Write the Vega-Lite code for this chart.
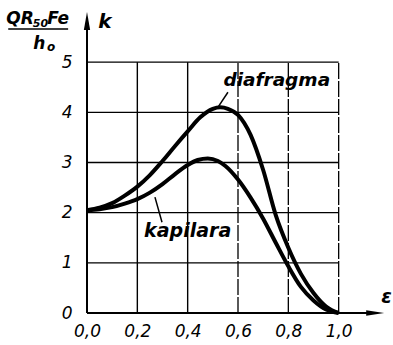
{
  "$schema": "https://vega.github.io/schema/vega-lite/v6.json",
  "width": 302,
  "height": 301,
  "autosize": "none",
  "padding": {"left": 87, "top": 12, "right": 4, "bottom": 32},
  "background": "white",
  "config": {"view": {"stroke": null}, "font": "DejaVu Sans"},
  "datasets": {
    "curves": [
      {"series": "diafragma", "x": 0.0, "y": 2.05},
      {"series": "diafragma", "x": 0.05, "y": 2.1},
      {"series": "diafragma", "x": 0.1, "y": 2.19},
      {"series": "diafragma", "x": 0.15, "y": 2.34},
      {"series": "diafragma", "x": 0.2, "y": 2.52},
      {"series": "diafragma", "x": 0.25, "y": 2.75},
      {"series": "diafragma", "x": 0.3, "y": 3.03},
      {"series": "diafragma", "x": 0.35, "y": 3.33},
      {"series": "diafragma", "x": 0.4, "y": 3.62},
      {"series": "diafragma", "x": 0.45, "y": 3.9},
      {"series": "diafragma", "x": 0.5, "y": 4.07},
      {"series": "diafragma", "x": 0.53, "y": 4.1},
      {"series": "diafragma", "x": 0.56, "y": 4.07},
      {"series": "diafragma", "x": 0.6, "y": 3.95},
      {"series": "diafragma", "x": 0.65, "y": 3.55},
      {"series": "diafragma", "x": 0.7, "y": 2.85},
      {"series": "diafragma", "x": 0.75, "y": 1.95},
      {"series": "diafragma", "x": 0.8, "y": 1.3},
      {"series": "diafragma", "x": 0.85, "y": 0.78},
      {"series": "diafragma", "x": 0.9, "y": 0.4},
      {"series": "diafragma", "x": 0.95, "y": 0.13},
      {"series": "diafragma", "x": 1.0, "y": 0.0},
      {"series": "kapilara", "x": 0.0, "y": 2.05},
      {"series": "kapilara", "x": 0.05, "y": 2.07},
      {"series": "kapilara", "x": 0.1, "y": 2.11},
      {"series": "kapilara", "x": 0.15, "y": 2.18},
      {"series": "kapilara", "x": 0.2, "y": 2.27},
      {"series": "kapilara", "x": 0.25, "y": 2.4},
      {"series": "kapilara", "x": 0.3, "y": 2.57},
      {"series": "kapilara", "x": 0.35, "y": 2.77},
      {"series": "kapilara", "x": 0.4, "y": 2.95},
      {"series": "kapilara", "x": 0.44, "y": 3.05},
      {"series": "kapilara", "x": 0.48, "y": 3.08},
      {"series": "kapilara", "x": 0.52, "y": 3.03},
      {"series": "kapilara", "x": 0.55, "y": 2.93},
      {"series": "kapilara", "x": 0.6, "y": 2.66},
      {"series": "kapilara", "x": 0.65, "y": 2.3},
      {"series": "kapilara", "x": 0.7, "y": 1.88},
      {"series": "kapilara", "x": 0.75, "y": 1.4},
      {"series": "kapilara", "x": 0.8, "y": 0.93},
      {"series": "kapilara", "x": 0.85, "y": 0.52},
      {"series": "kapilara", "x": 0.9, "y": 0.25},
      {"series": "kapilara", "x": 0.95, "y": 0.07},
      {"series": "kapilara", "x": 1.0, "y": 0.0}
    ],
    "gridSolid": [
      {"x": 0.2, "x2": 0.2, "y": 0, "y2": 5},
      {"x": 0.4, "x2": 0.4, "y": 0, "y2": 5},
      {"x": 0, "x2": 1.0, "y": 1, "y2": 1},
      {"x": 0, "x2": 1.0, "y": 2, "y2": 2},
      {"x": 0, "x2": 1.0, "y": 3, "y2": 3},
      {"x": 0, "x2": 1.0, "y": 4, "y2": 4},
      {"x": 0, "x2": 1.0, "y": 5, "y2": 5}
    ],
    "gridBroken": [
      {"x": 0.6, "x2": 0.6, "y": 0, "y2": 5},
      {"x": 0.8, "x2": 0.8, "y": 0, "y2": 5},
      {"x": 1.0, "x2": 1.0, "y": 0, "y2": 5}
    ],
    "axes": [
      {"x": 0, "x2": 1.13, "y": 0, "y2": 0},
      {"x": 0, "x2": 0, "y": 0, "y2": 5.7}
    ],
    "arrows": [
      {"x": 0, "y": 5.82, "dir": "up"},
      {"x": 1.145, "y": 0, "dir": "right"}
    ],
    "labels": [
      {"x": 0.754, "y": 4.64, "text": "diafragma", "size": 18.5},
      {"x": 0.4, "y": 1.63, "text": "kapilara", "size": 19},
      {"x": 0.071, "y": 5.8, "text": "k", "size": 20},
      {"x": 1.19, "y": 0.32, "text": "ε", "size": 19},
      {"x": -0.266, "y": 5.87, "text": "QR", "size": 17},
      {"x": -0.185, "y": 5.76, "text": "50", "size": 11},
      {"x": -0.115, "y": 5.87, "text": "Fe", "size": 17},
      {"x": -0.19, "y": 5.37, "text": "h", "size": 17},
      {"x": -0.143, "y": 5.31, "text": "o", "size": 12}
    ],
    "leaders": [
      {"x": 0.56, "x2": 0.52, "y": 4.4, "y2": 4.1},
      {"x": 0.298, "x2": 0.27, "y": 1.81, "y2": 2.31},
      {"x": -0.313, "x2": -0.075, "y": 5.66, "y2": 5.66}
    ]
  },
  "encoding": {
    "x": {
      "field": "x", "type": "quantitative",
      "scale": {"domain": [0, 1.2], "nice": false, "zero": false},
      "axis": {
        "values": [0, 0.2, 0.4, 0.6, 0.8, 1.0],
        "labelExpr": "replace(format(datum.value, '.1f'), '.', ',')",
        "domain": false, "ticks": false, "grid": false, "title": null,
        "labelFlush": false, "labelOverlap": false,
        "labelFontSize": 17, "labelFontStyle": "italic", "labelColor": "black",
        "labelPadding": 10, "labelFont": "DejaVu Sans"
      }
    },
    "y": {
      "field": "y", "type": "quantitative",
      "scale": {"domain": [0, 6], "nice": false, "zero": false},
      "axis": {
        "values": [0, 1, 2, 3, 4, 5],
        "domain": false, "ticks": false, "grid": false, "title": null,
        "labelFlush": false, "labelOverlap": false,
        "labelFontSize": 17, "labelFontStyle": "italic", "labelColor": "black",
        "labelPadding": 15, "labelFont": "DejaVu Sans"
      }
    }
  },
  "layer": [
    {
      "data": {"name": "gridSolid"},
      "mark": {"type": "rule", "color": "black", "strokeWidth": 1.4},
      "encoding": {"x2": {"field": "x2"}, "y2": {"field": "y2"}}
    },
    {
      "data": {"name": "gridBroken"},
      "mark": {"type": "rule", "color": "black", "strokeWidth": 1.3, "strokeDash": [16, 2]},
      "encoding": {"x2": {"field": "x2"}, "y2": {"field": "y2"}}
    },
    {
      "data": {"name": "axes"},
      "mark": {"type": "rule", "color": "black", "strokeWidth": 2},
      "encoding": {"x2": {"field": "x2"}, "y2": {"field": "y2"}}
    },
    {
      "data": {"name": "arrows"},
      "transform": [{"filter": "datum.dir === 'up'"}],
      "mark": {"type": "point", "filled": true, "color": "black", "opacity": 1, "size": 324, "shape": "M0,-1L0.35,1L-0.35,1Z"},
      "encoding": {}
    },
    {
      "data": {"name": "arrows"},
      "transform": [{"filter": "datum.dir === 'right'"}],
      "mark": {"type": "point", "filled": true, "color": "black", "opacity": 1, "size": 324, "shape": "M1,0L-1,-0.3L-1,0.3Z"},
      "encoding": {}
    },
    {
      "data": {"name": "curves"},
      "mark": {"type": "line", "color": "black", "strokeWidth": 4, "interpolate": "monotone"},
      "encoding": {"detail": {"field": "series"}}
    },
    {
      "data": {"name": "leaders"},
      "mark": {"type": "rule", "color": "black", "strokeWidth": 1.5},
      "encoding": {"x2": {"field": "x2"}, "y2": {"field": "y2"}}
    },
    {
      "data": {"name": "labels"},
      "mark": {"type": "text", "color": "black", "fontStyle": "italic", "fontWeight": "bold", "font": "DejaVu Sans", "align": "center", "baseline": "middle"},
      "encoding": {"text": {"field": "text"}, "size": {"field": "size", "type": "quantitative", "scale": null}}
    }
  ]
}
